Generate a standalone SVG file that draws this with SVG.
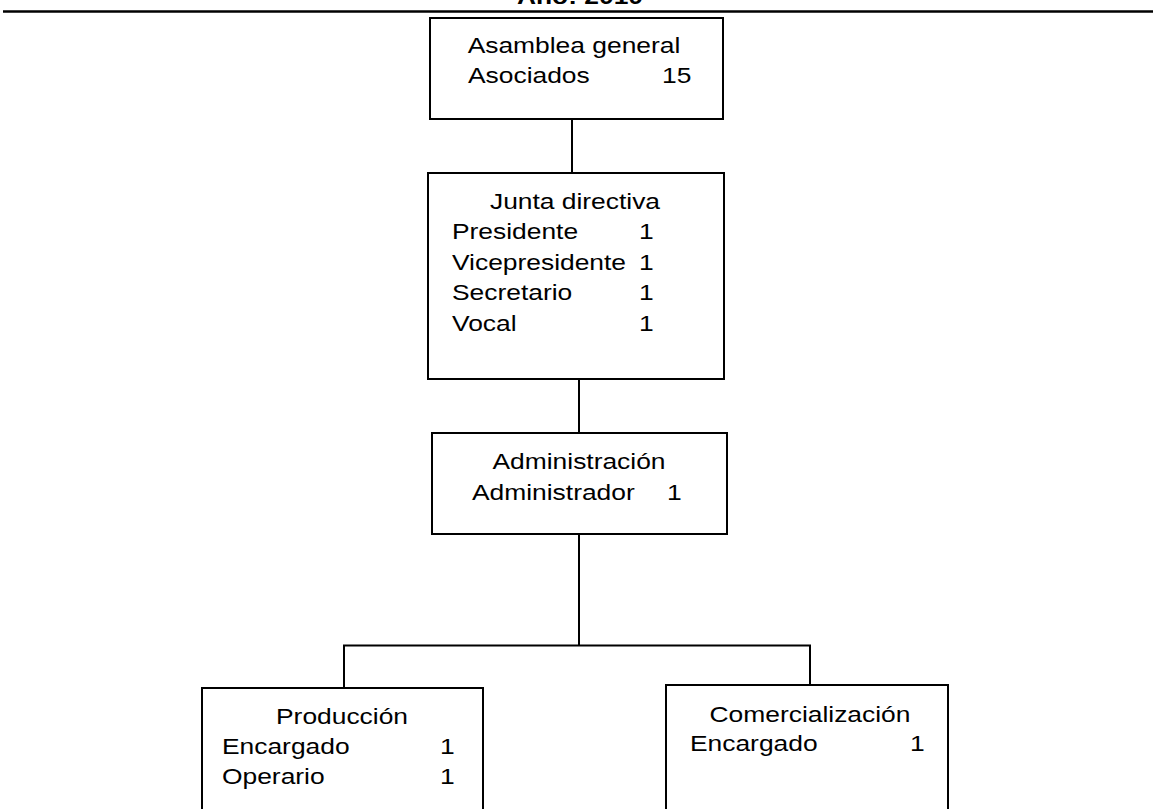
<svg xmlns="http://www.w3.org/2000/svg" width="1153" height="809" viewBox="0 0 1153 809">
<style>
  .box { fill: #ffffff; stroke: #000000; stroke-width: 2; }
  .conn { fill: none; stroke: #000000; stroke-width: 2; }
  text { font-family: "Liberation Sans", Arial, sans-serif; font-size: 22px; fill: #000000; }
  .c { text-anchor: middle; }
  .title { font-weight: bold; text-anchor: middle; }
</style>
<rect x="0" y="0" width="1153" height="809" fill="#ffffff"/>
<g id="header">
  <text class="title" x="483.33" y="4" transform="scale(1.2 1)">Año: 2010</text>
  <line x1="3" y1="11.5" x2="1153" y2="11.5" stroke="#000" stroke-width="2.5"/>
</g>
<g id="connectors">
  <line class="conn" x1="572" y1="119" x2="572" y2="173"/>
  <line class="conn" x1="579" y1="379" x2="579" y2="433"/>
  <line class="conn" x1="579" y1="534" x2="579" y2="645.5"/>
  <polyline class="conn" points="344,688 344,645.5 810,645.5 810,685"/>
</g>
<g id="asamblea">
  <rect class="box" x="430" y="18" width="293" height="101"/>
  <text class="c" x="478.33" y="53" transform="scale(1.2 1)">Asamblea general</text>
  <text x="390" y="83" transform="scale(1.2 1)">Asociados</text>
  <text x="551.67" y="83" transform="scale(1.2 1)">15</text>
</g>
<g id="junta">
  <rect class="box" x="428" y="173" width="296" height="206"/>
  <text class="c" x="479.17" y="209" transform="scale(1.2 1)">Junta directiva</text>
  <text x="376.67" y="239" transform="scale(1.2 1)">Presidente</text>
  <text x="532.5" y="239" transform="scale(1.2 1)">1</text>
  <text x="376.67" y="270" transform="scale(1.2 1)">Vicepresidente</text>
  <text x="532.5" y="270" transform="scale(1.2 1)">1</text>
  <text x="376.67" y="300" transform="scale(1.2 1)">Secretario</text>
  <text x="532.5" y="300" transform="scale(1.2 1)">1</text>
  <text x="376.67" y="331" transform="scale(1.2 1)">Vocal</text>
  <text x="532.5" y="331" transform="scale(1.2 1)">1</text>
</g>
<g id="administracion">
  <rect class="box" x="432" y="433" width="295" height="101"/>
  <text class="c" x="482.5" y="469" transform="scale(1.2 1)">Administración</text>
  <text x="393.33" y="500" transform="scale(1.2 1)">Administrador</text>
  <text x="555.83" y="500" transform="scale(1.2 1)">1</text>
</g>
<g id="produccion">
  <rect class="box" x="202" y="688" width="281" height="150"/>
  <text class="c" x="285" y="724" transform="scale(1.2 1)">Producción</text>
  <text x="185" y="754" transform="scale(1.2 1)">Encargado</text>
  <text x="366.67" y="754" transform="scale(1.2 1)">1</text>
  <text x="185" y="784" transform="scale(1.2 1)">Operario</text>
  <text x="366.67" y="784" transform="scale(1.2 1)">1</text>
</g>
<g id="comercializacion">
  <rect class="box" x="666" y="685" width="282" height="150"/>
  <text class="c" x="675" y="722" transform="scale(1.2 1)">Comercialización</text>
  <text x="575" y="751" transform="scale(1.2 1)">Encargado</text>
  <text x="758.33" y="751" transform="scale(1.2 1)">1</text>
</g>
</svg>
